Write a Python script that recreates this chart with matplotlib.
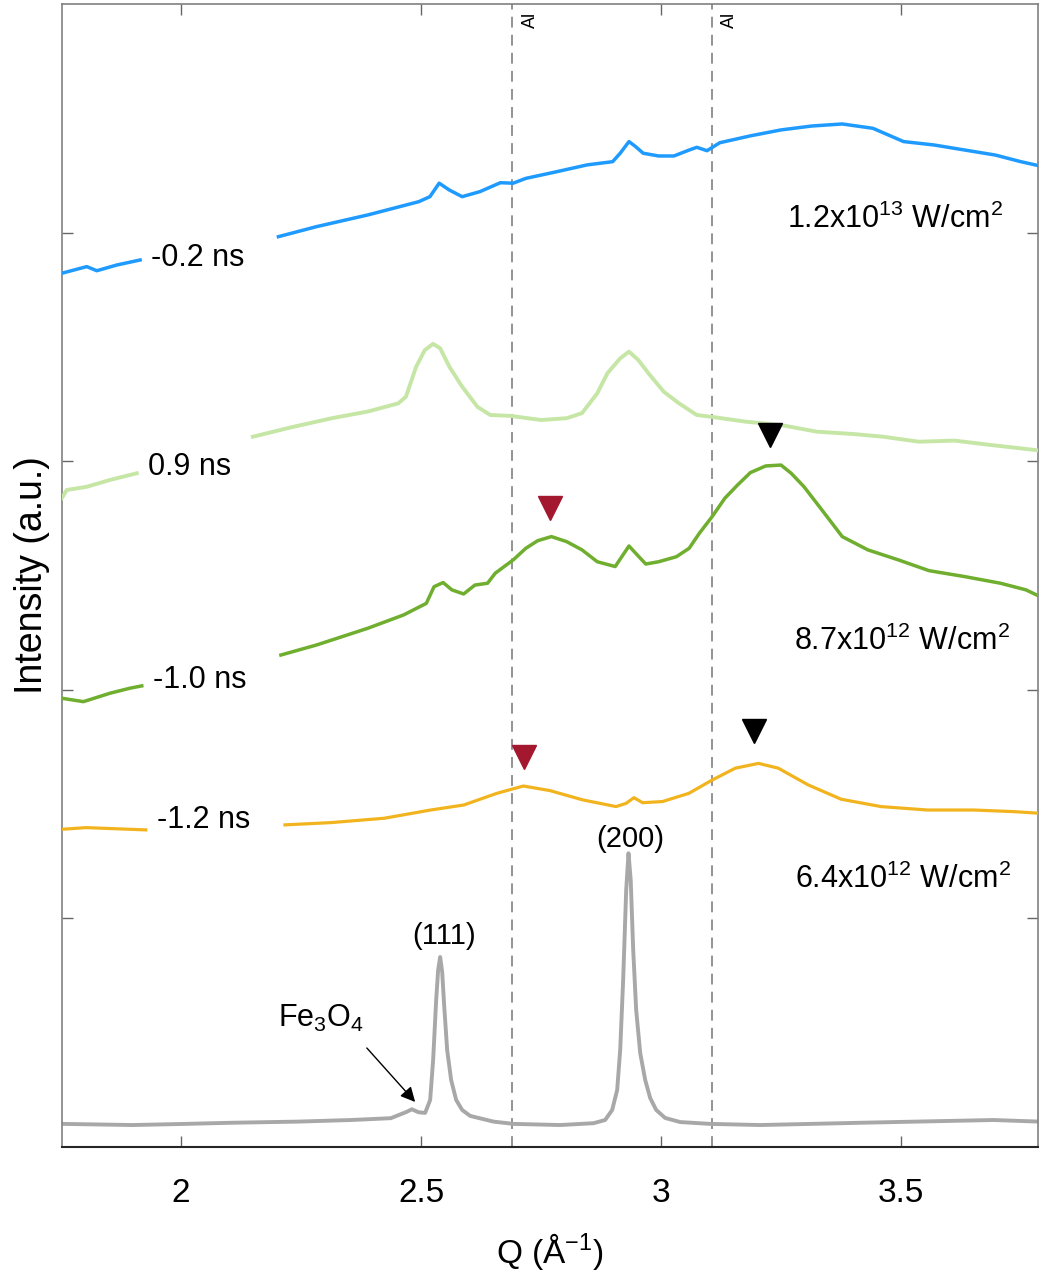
import matplotlib
matplotlib.use("Agg")
import matplotlib.pyplot as plt

plt.rcParams['font.family'] = ['Liberation Sans', 'DejaVu Sans']
plt.rcParams['mathtext.fontset'] = 'custom'
plt.rcParams['mathtext.rm'] = 'Liberation Sans'

# ---------------- data (Q in 1/Angstrom, intensity in a.u., offset stacked) ----------------
blue_left_q = [1.7515, 1.8035, 1.8244, 1.866, 1.9146]
blue_left_i = [3.822, 3.851, 3.833, 3.858, 3.880]
blue_q = [2.2027, 2.2823, 2.3888, 2.495, 2.5183, 2.5375, 2.5588, 2.5854, 2.6225, 2.665,
          2.6917, 2.7181, 2.7819, 2.8458, 2.8988, 2.9146, 2.9329, 2.9467, 2.9625, 2.9946,
          3.0265, 3.0583, 3.0742, 3.0954, 3.1221, 3.1858, 3.2496, 3.3133, 3.3771, 3.441,
          3.5048, 3.5685, 3.6323, 3.696, 3.7492, 3.7896]
blue_i = [3.982, 4.026, 4.077, 4.135, 4.157, 4.216, 4.186, 4.157, 4.179, 4.218,
          4.216, 4.237, 4.266, 4.296, 4.310, 4.347, 4.398, 4.376, 4.347, 4.335,
          4.335, 4.361, 4.373, 4.358, 4.393, 4.423, 4.449, 4.466, 4.475, 4.456,
          4.398, 4.383, 4.361, 4.339, 4.310, 4.291]

lgreen_left_q = [1.7515, 1.7619, 1.8035, 1.8521, 1.9077]
lgreen_left_i = [2.838, 2.874, 2.888, 2.918, 2.947]
lgreen_q = [2.1496, 2.2292, 2.3142, 2.3888, 2.4525, 2.4683, 2.4896, 2.5077, 2.5248, 2.5396,
            2.5588, 2.5854, 2.6171, 2.6438, 2.6863, 2.75, 2.8031, 2.835, 2.8669, 2.8881,
            2.9148, 2.9329, 2.9521, 2.9733, 3.0052, 3.0371, 3.0742, 3.1115, 3.1752, 3.2496,
            3.324, 3.3983, 3.4623, 3.5367, 3.611, 3.6854, 3.7492, 3.7896]
lgreen_i = [3.107, 3.148, 3.188, 3.217, 3.253, 3.282, 3.413, 3.486, 3.513, 3.494,
            3.413, 3.326, 3.238, 3.202, 3.198, 3.180, 3.188, 3.210, 3.297, 3.385,
            3.450, 3.479, 3.443, 3.385, 3.304, 3.253, 3.202, 3.192, 3.173, 3.158,
            3.129, 3.119, 3.107, 3.085, 3.090, 3.071, 3.056, 3.046]

dgreen_left_q = [1.7515, 1.7965, 1.8521, 1.8938, 1.9181]
dgreen_left_i = [1.963, 1.948, 1.985, 2.007, 2.017]
dgreen_q = [2.2079, 2.2823, 2.3888, 2.4631, 2.5108, 2.5269, 2.5458, 2.564, 2.5885, 2.6119,
            2.6383, 2.6544, 2.6917, 2.7181, 2.7427, 2.7713, 2.8031, 2.835, 2.8669, 2.9042,
            2.9179, 2.9329, 2.95, 2.9679, 2.9946, 3.0317, 3.0583, 3.0796, 3.106, 3.1327,
            3.1592, 3.1858, 3.2177, 3.2496, 3.2708, 3.2975, 3.3346, 3.3771, 3.4304, 3.4942,
            3.5579, 3.6323, 3.7067, 3.7598, 3.7896]
dgreen_i = [2.152, 2.196, 2.269, 2.327, 2.378, 2.451, 2.469, 2.437, 2.419, 2.458,
            2.466, 2.510, 2.568, 2.619, 2.652, 2.670, 2.648, 2.612, 2.560, 2.539,
            2.582, 2.629, 2.590, 2.550, 2.560, 2.582, 2.619, 2.685, 2.757, 2.838,
            2.896, 2.950, 2.979, 2.983, 2.947, 2.888, 2.787, 2.670, 2.612, 2.568,
            2.521, 2.495, 2.466, 2.437, 2.407]

orange_left_q = [1.754, 1.8023, 1.9265]
orange_left_i = [1.390, 1.397, 1.387]
orange_q = [2.2163, 2.3127, 2.4231, 2.5198, 2.5888, 2.6577, 2.7129, 2.7681, 2.8371, 2.906,
            2.9267, 2.9433, 2.9613, 3.0027, 3.0577, 3.106, 3.1544, 3.2027, 3.244, 3.306,
            3.3752, 3.4579, 3.5546, 3.651, 3.7338, 3.7863]
orange_i = [1.409, 1.419, 1.438, 1.474, 1.496, 1.547, 1.579, 1.559, 1.518, 1.489,
            1.503, 1.528, 1.506, 1.511, 1.547, 1.605, 1.657, 1.678, 1.657, 1.584,
            1.521, 1.489, 1.474, 1.474, 1.467, 1.460]

gray_q = [1.754, 1.899, 2.0092, 2.1058, 2.2438, 2.3542, 2.4369, 2.4702, 2.4806, 2.4944,
          2.5083, 2.5188, 2.525, 2.5313, 2.5354, 2.5396, 2.5438, 2.5479, 2.5542, 2.5625,
          2.5729, 2.5854, 2.6021, 2.6506, 2.6923, 2.7896, 2.859, 2.8833, 2.8979, 2.9083,
          2.9146, 2.9208, 2.9271, 2.9319, 2.9365, 2.9417, 2.9479, 2.9563, 2.9667, 2.9771,
          2.9896, 3.0083, 3.0396, 3.1021, 3.2063, 3.4167, 3.6229, 3.6925, 3.7863]
gray_i = [0.101, 0.096, 0.101, 0.106, 0.111, 0.118, 0.126, 0.154, 0.165, 0.152,
          0.149, 0.206, 0.381, 0.643, 0.774, 0.831, 0.766, 0.621, 0.424, 0.293,
          0.206, 0.162, 0.136, 0.111, 0.101, 0.096, 0.104, 0.118, 0.162, 0.249,
          0.424, 0.731, 1.124, 1.285, 1.168, 0.862, 0.599, 0.411, 0.293, 0.214,
          0.162, 0.127, 0.109, 0.101, 0.096, 0.106, 0.115, 0.118, 0.111]

al_lines = [2.69, 3.106]
x_ticks = [2, 2.5, 3, 3.5]
x_ticklabels = ['2', '2.5', '3', '3.5']
y_ticks = [1, 2, 3, 4]

red_tri_q = [2.769, 2.7146]
red_tri_i = [2.795, 1.706]
black_tri_q = [3.227, 3.193]
black_tri_i = [3.115, 1.820]

time_labels = ['-0.2 ns', '0.9 ns', '-1.0 ns', '-1.2 ns']
time_label_q = [1.9375, 1.9306, 1.941, 1.95]
time_label_i = [3.889, 2.976, 2.043, 1.430]

power_labels = [r'1.2x10$\mathregular{^{13}}$ W/cm$\mathregular{^{2}}$',
                r'8.7x10$\mathregular{^{12}}$ W/cm$\mathregular{^{2}}$',
                r'6.4x10$\mathregular{^{12}}$ W/cm$\mathregular{^{2}}$']
power_label_q = [3.2625, 3.276, 3.2785]
power_label_i = [4.020, 2.174, 1.133]

# ---------------- figure ----------------
fig = plt.figure(figsize=(10.39, 12.74), dpi=100)
ax = fig.add_axes([0.0597, 0.0997, 0.9394, 0.8972])

for q in al_lines:
    ax.axvline(q, color='#8a8a8a', lw=1.3, ls=(0, (6, 4)), zorder=1)
    ax.text(q + 0.037, 4.965, 'Al', rotation=90, ha='center', va='top', fontsize=13)

c_blue = '#1f9bff'
c_lg = '#c6e6a6'
c_dg = '#6fae2e'
c_or = '#f2b41e'
c_gr = '#a8a8a8'

ax.plot(gray_q, gray_i, color=c_gr, lw=2.8, zorder=2)
ax.plot(orange_left_q, orange_left_i, color=c_or, lw=2.3, zorder=3)
ax.plot(orange_q, orange_i, color=c_or, lw=2.3, zorder=3)
ax.plot(dgreen_left_q, dgreen_left_i, color=c_dg, lw=2.5, zorder=3)
ax.plot(dgreen_q, dgreen_i, color=c_dg, lw=2.5, zorder=3)
ax.plot(lgreen_left_q, lgreen_left_i, color=c_lg, lw=2.8, zorder=3)
ax.plot(lgreen_q, lgreen_i, color=c_lg, lw=2.8, zorder=3)
ax.plot(blue_left_q, blue_left_i, color=c_blue, lw=2.5, zorder=3)
ax.plot(blue_q, blue_i, color=c_blue, lw=2.5, zorder=3)

ax.plot(red_tri_q, red_tri_i, ls='none', marker='v', ms=17, color='#a3172f', zorder=4)
ax.plot(black_tri_q, black_tri_i, ls='none', marker='v', ms=17, color='black', zorder=4)

for t, q, i in zip(time_labels, time_label_q, time_label_i):
    ax.text(q, i, t, ha='left', va='center', fontsize=22)
for t, q, i in zip(power_labels, power_label_q, power_label_i):
    ax.text(q, i, t, ha='left', va='baseline', fontsize=22)

ax.text(2.5475, 0.923, '(111)', ha='center', va='center', fontsize=21)
ax.text(2.935, 1.347, '(200)', ha='center', va='center', fontsize=21)
ax.text(2.2027, 0.525, r'Fe$\mathregular{_3}$O$\mathregular{_4}$', ha='left', va='baseline', fontsize=22)
ax.annotate('', xy=(2.4875, 0.197), xytext=(2.3869, 0.433),
            arrowprops=dict(arrowstyle='-|>', color='black', lw=1.0, mutation_scale=22,
                            shrinkA=0, shrinkB=0))

ax.set_xlim(1.752, 3.785)
ax.set_ylim(0, 5)
ax.set_xticks(x_ticks)
ax.set_xticklabels(x_ticklabels)
ax.set_yticks(y_ticks)
ax.set_yticklabels([])
ax.tick_params(direction='in', length=8, width=1.0, top=True, right=True,
               labelsize=24, pad=22, colors='#666666', labelcolor='black')
ax.set_xlabel(r'Q (Å$\mathregular{^{-1}}$)', fontsize=24, labelpad=16)
ax.set_ylabel('Intensity (a.u.)', fontsize=27)
ax.yaxis.set_label_coords(-0.012, 0.5)

for s in ['left', 'top', 'right']:
    ax.spines[s].set_color('#808080')
    ax.spines[s].set_linewidth(1.2)
ax.spines['bottom'].set_color('#262626')
ax.spines['bottom'].set_linewidth(1.5)

fig.savefig('out.png', dpi=100)
